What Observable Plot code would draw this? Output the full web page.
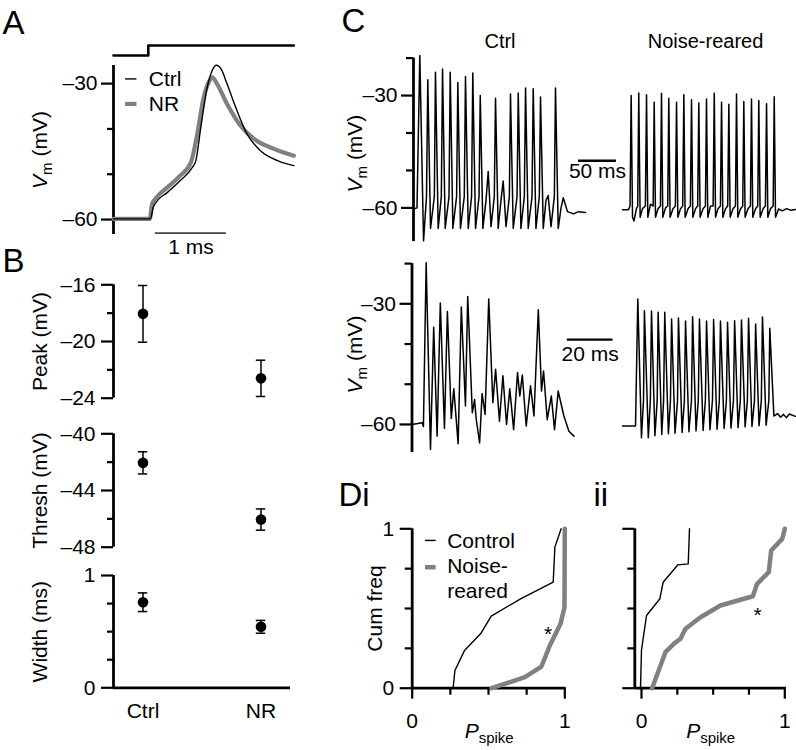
<!DOCTYPE html>
<html><head><meta charset="utf-8">
<script src="https://cdn.jsdelivr.net/npm/d3@7"></script>
<script src="https://cdn.jsdelivr.net/npm/@observablehq/plot@0.6"></script>
<style>
html,body{margin:0;padding:0;background:#fff;overflow:hidden}
#fig{position:relative;width:796px;height:750px;background:#fff}
#fig svg{position:absolute;left:0;top:0}
</style></head><body><div id="fig"></div>
<script>
// ---------- Panel A: stimulus and averaged action potentials (t in ms, V in mV)
const stimTime = [0, 0.49, 2.54];
const stimLevel = [0, 1, 1];
const apCtrl = [[0,-59.85],[0.52,-59.85],[0.56,-57.3],[0.59,-56.4],[0.76,-54.0],[0.94,-51.4],[1.11,-48.5],[1.16,-47.0],[1.23,-39.6],[1.32,-30.8],[1.39,-27.1],[1.45,-25.95],[1.52,-26.9],[1.60,-30.1],[1.74,-36.0],[1.88,-41.1],[2.07,-44.8],[2.31,-47.0],[2.54,-48.1]];
const apNR = [[0,-59.85],[0.51,-59.85],[0.545,-56.5],[0.59,-55.4],[0.76,-52.9],[0.94,-50.3],[1.09,-47.4],[1.18,-41.1],[1.27,-33.0],[1.34,-29.7],[1.39,-28.6],[1.46,-30.1],[1.60,-34.5],[1.79,-39.3],[1.98,-42.2],[2.26,-44.4],[2.54,-45.9]];

// ---------- Panel B: mean ± SEM
const groups = ["Ctrl", "NR"];
const peakMean = [-18.05, -22.6];
const peakErr = [2.0, 1.28];
const threshMean = [-42.05, -46.05];
const threshErr = [0.78, 0.75];
const widthMean = [0.762, 0.543];
const widthErr = [0.083, 0.057];

// ---------- Panel C: spike trains (t in ms, V in mV)
const trainCtrlTop = [[0,-60.3],[4.6,-60.0],[8.3,-19.3],[13.2,-68.8],[17.1,-57],[18.8,-25.8],[22.4,-65.5],[27.4,-57],[28.9,-23.8],[32.5,-65.5],[36.6,-57],[38.2,-22.9],[41.7,-65.5],[46.7,-57],[48.3,-23.8],[51.8,-65.5],[56.7,-57],[58.3,-26.5],[61.8,-65.5],[66.8,-57],[68.4,-24.9],[72.0,-65.5],[76.4,-57],[78.0,-24.0],[81.6,-65.5],[86.2,-57],[87.8,-30.0],[91.3,-65.5],[95.4,-58],[98.3,-50.3],[102.0,-65],[106.3,-57],[107.9,-30.7],[111.4,-65.5],[115.1,-58],[118.0,-52.8],[121.7,-65],[126.1,-57],[127.6,-29.6],[131.2,-65.5],[136.2,-57],[137.8,-29.3],[141.3,-65.5],[145.8,-57],[147.4,-28.0],[150.9,-65.5],[155.9,-57],[157.5,-28.2],[161.1,-65.5],[165.5,-57],[167.1,-30.4],[170.7,-65.5],[174.3,-58],[177.2,-56.7],[180.9,-65],[185.3,-57],[186.8,-28.0],[190.4,-65.5],[194.1,-60],[197.0,-57.3],[202.6,-61],[210.5,-61.6],[217.1,-61.0],[226.3,-61.2]];
const trainNRTop = [[0,-60.5],[7.9,-60.5],[9.9,-59.5],[11.4,-30.0],[13.2,-62.5],[15.1,-63.5],[18.4,-60.2],[20.0,-59.5],[21.4,-29.3],[23.2,-62.5],[26.3,-60.2],[30.1,-59.5],[31.6,-29.8],[33.3,-62.5],[36.8,-59.0],[40.3,-59.5],[41.7,-31.8],[43.4,-62.5],[46.7,-60.2],[49.9,-59.5],[51.3,-29.4],[53.0,-62.5],[56.6,-60.0],[59.5,-59.5],[60.9,-30.7],[62.6,-62.5],[66.4,-60.2],[69.6,-59.5],[71.1,-31.8],[72.8,-62.5],[76.3,-60.2],[79.2,-59.5],[80.7,-29.8],[82.4,-62.5],[86.2,-60.2],[89.3,-59.5],[90.8,-31.1],[92.5,-62.5],[96.1,-60.2],[98.9,-59.5],[100.4,-32.0],[102.1,-62.5],[105.9,-60.2],[109.1,-59.5],[110.5,-30.9],[112.2,-62.5],[115.8,-59.5],[119.2,-59.5],[120.7,-29.4],[122.4,-62.5],[125.7,-60.2],[128.8,-59.5],[130.3,-31.8],[132.0,-62.5],[135.5,-60.2],[138.4,-59.5],[139.9,-32.3],[141.6,-62.5],[145.4,-60.2],[148.6,-59.5],[150.0,-29.6],[151.7,-62.5],[155.3,-60.2],[158.2,-59.5],[159.6,-31.6],[161.3,-62.5],[165.1,-60.2],[168.3,-59.5],[169.7,-30.9],[171.4,-62.5],[175.0,-60.2],[177.9,-59.5],[179.3,-31.3],[181.1,-62.5],[184.9,-60.2],[188.0,-59.5],[189.5,-32.2],[191.2,-62.5],[194.7,-60.2],[198.2,-59.5],[199.6,-30.3],[201.3,-62.5],[205.3,-60.3],[210.5,-60.8],[215.8,-60.2],[221.1,-60.6],[227.6,-60.4]];
const trainCtrlBottom = [[0,-60.0],[4.5,-59.6],[5.0,-60.5],[6.2,-19.8],[8.1,-66.2],[9.5,-35.8],[11.0,-62.9],[12.4,-29.8],[14.2,-61.0],[15.5,-31.9],[17.2,-58.5],[18.3,-51.1],[20.2,-64.8],[21.6,-30.8],[23.4,-55.4],[24.4,-28.2],[26.4,-57.1],[27.4,-53.8],[28.1,-58.6],[29.6,-64.6],[30.7,-52.3],[32.0,-57.5],[33.6,-28.8],[35.4,-54.6],[36.6,-46.3],[38.3,-59.2],[39.8,-47.9],[41.4,-60.0],[42.8,-51.1],[44.5,-61.3],[46.2,-47.1],[47.2,-52.9],[48.3,-47.7],[50.0,-60.4],[51.9,-50.4],[53.4,-57.9],[55.3,-31.5],[56.7,-51.7],[57.6,-46.7],[59.2,-58.8],[61.0,-52.9],[62.4,-61.3],[64.0,-51.7],[66.5,-57.9],[68.7,-61.7],[70.9,-62.9]];
const trainNRBottom = [[0,-60.4],[5.7,-60.4],[6.7,-28.8],[8.3,-63.3],[9.2,-54],[9.6,-31.7],[11.3,-63.3],[12.2,-54],[12.7,-31.8],[14.2,-62.8],[15.2,-54],[15.6,-32.1],[17.2,-62.5],[18.0,-54],[18.5,-32.1],[20.1,-62.3],[21.0,-54],[21.5,-33.8],[23.0,-62.2],[24.1,-54],[24.5,-33.5],[26.1,-62.0],[27.1,-54],[27.6,-34.3],[29.1,-61.8],[30.2,-54],[30.7,-33.2],[32.2,-61.6],[33.2,-54],[33.7,-33.8],[35.3,-61.5],[36.3,-54],[36.8,-34.3],[38.3,-61.3],[39.4,-54],[39.9,-33.9],[41.4,-61.2],[42.4,-54],[42.9,-34.3],[44.5,-61.0],[45.5,-54],[46.0,-34.6],[47.5,-60.9],[48.6,-54],[49.1,-34.2],[50.6,-60.8],[51.6,-54],[52.1,-34.0],[53.7,-60.6],[54.7,-54],[55.2,-33.6],[56.7,-60.5],[57.8,-54],[58.3,-35.0],[59.8,-60.3],[60.8,-54],[61.3,-33.3],[62.9,-60.2],[64.1,-54],[64.5,-36.1],[66.3,-57.9],[67.9,-57.3],[69.2,-58.2],[70.5,-57.5],[71.8,-58.3],[73.1,-57.4],[75.7,-58.0]];

// ---------- Panel D: cumulative frequency of P_spike
const diControl = [[0.268,0],[0.28,0.111],[0.343,0.237],[0.448,0.341],[0.518,0.452],[0.71,0.561],[0.924,0.665],[0.935,0.885],[0.976,1]];
const diNoise = [[0.52,0],[0.738,0.069],[0.847,0.136],[0.902,0.268],[0.972,0.404],[0.998,0.508],[1.0,1]];
const diiControl = [[-0.007,0],[0.0,0.24],[0.035,0.456],[0.128,0.561],[0.151,0.665],[0.254,0.774],[0.326,0.78],[0.335,1]];
const diiNoise = [[0.074,0],[0.167,0.226],[0.225,0.278],[0.272,0.31],[0.307,0.373],[0.412,0.445],[0.551,0.519],[0.777,0.577],[0.807,0.655],[0.888,0.728],[0.905,0.864],[0.982,0.937],[1.0,1]];

// ---------- helpers
const W = 796, H = 750;
const FONT = '"Liberation Sans", Arial, Helvetica, sans-serif';
const GRAY = "#808080";
const AX = 2.8, TK = 2.2, TR = 1.5;
const fmt = d => d < 0 ? "\u2013" + Math.abs(d) : String(d);
const blank = () => "";
const X = d => d[0], Y = d => d[1];

function panel([l, t, r, b], opts) {
  return Plot.plot({
    width: W, height: H,
    marginLeft: l, marginTop: t, marginRight: W - r, marginBottom: H - b,
    style: {background: "transparent", fontFamily: FONT, fontSize: "21px", overflow: "visible", color: "black"},
    ...opts
  });
}
const yLabel = (s, dx, dy = 0) => Plot.text([s], {frameAnchor: "left", dx, dy, rotate: -90, textAnchor: "middle", lineAnchor: "middle"});
const minorY = (ticks, size) => Plot.axisY(ticks, {tickSize: size, tickFormat: blank, strokeWidth: TK, label: null});
const minorX = (ticks, size) => Plot.axisX(ticks, {tickSize: size, tickFormat: blank, strokeWidth: TK, label: null});

const plots = [];

// Panel A stimulus
plots.push(panel([113, 45, 293, 55], {
  x: {domain: [0, 2.535], axis: null},
  y: {domain: [0, 1], axis: null},
  marks: [Plot.line(stimTime.map((t, i) => [t, stimLevel[i]]), {x: X, y: Y, curve: "step-after", strokeWidth: 2.6})]
}));

// Panel A traces
plots.push(panel([113, 65, 293, 234], {
  x: {domain: [0, 2.535], axis: null},
  y: {domain: [-63.3, -26]},
  marks: [
    Plot.ruleX([0], {y1: -63.3, y2: -26, strokeWidth: AX}),
    Plot.axisY([-30, -60], {tickSize: 12, tickPadding: 4, tickFormat: fmt, strokeWidth: TK, label: null}),
    minorY([-40, -50], 6),
    Plot.line(apNR, {x: X, y: Y, stroke: GRAY, strokeWidth: 4.2, curve: "monotone-x"}),
    Plot.line(apCtrl, {x: X, y: Y, stroke: "black", strokeWidth: 1.4, curve: "monotone-x"}),
    Plot.ruleY([-63.0], {x1: 0.59, x2: 1.59, stroke: "#444", strokeWidth: 1.6}),
    Plot.text(["1 ms"], {x: 1.09, y: -63.0, dy: 14.3}),
    Plot.ruleY([-28.96], {x1: 0.17, x2: 0.33, stroke: "black", strokeWidth: 1.4}),
    Plot.ruleY([-34.48], {x1: 0.17, x2: 0.33, stroke: GRAY, strokeWidth: 4.2}),
    Plot.text(["Ctrl"], {x: 0.497, y: -29.07, textAnchor: "start"}),
    Plot.text(["NR"], {x: 0.497, y: -34.48, textAnchor: "start"}),
    yLabel("Vm (mV)", -73)
  ]
}));

// Panel B
function bPanel(frame, mean, err, dom, major, minor, label, withX) {
  const rows = groups.map((g, i) => ({i, g, mean: mean[i], lo: mean[i] - err[i], hi: mean[i] + err[i]}));
  const marks = [
    Plot.ruleX([-0.25], {y1: dom[0], y2: dom[1], strokeWidth: AX}),
    Plot.axisY(major, {tickSize: 12, tickPadding: 6, tickFormat: fmt, strokeWidth: TK, label: null}),
    minorY(minor, 6),
    Plot.ruleX(rows, {x: "i", y1: "lo", y2: "hi", strokeWidth: 1.5}),
    Plot.ruleY(rows, {y: "lo", x1: d => d.i - 0.04, x2: d => d.i + 0.04, strokeWidth: 1.5}),
    Plot.ruleY(rows, {y: "hi", x1: d => d.i - 0.04, x2: d => d.i + 0.04, strokeWidth: 1.5}),
    Plot.dot(rows, {x: "i", y: "mean", r: 5.3, fill: "black"}),
    yLabel(label, -73)
  ];
  if (withX) {
    marks.unshift(Plot.ruleY([dom[0]], {strokeWidth: AX}));
    marks.push(Plot.axisX([0, 1], {tickSize: 0, tickPadding: 15, tickFormat: i => groups[i], label: null}));
  }
  return panel(frame, {
    x: withX ? {domain: [-0.25, 1.25]} : {domain: [-0.25, 1.25], axis: null},
    y: {domain: dom},
    marks
  });
}
plots.push(bPanel([113, 284.3, 290, 397.7], peakMean, peakErr, [-24, -16], [-16, -20, -24], [-18, -22], "Peak (mV)", false));
plots.push(bPanel([113, 433.3, 290, 546.7], threshMean, threshErr, [-48, -40], [-40, -44, -48], [-42, -46], "Thresh (mV)", false));
plots.push(bPanel([113, 575, 290, 687.3], widthMean, widthErr, [0, 1], [0, 1], [0.25, 0.5, 0.75], "Width (ms)", true));

// Panel C
function cAxisMarks(dom) {
  return [
    Plot.ruleX([0], {y1: dom[0], y2: dom[1], strokeWidth: AX}),
    Plot.axisY([-30, -60], {tickSize: 12, tickPadding: 4, tickFormat: fmt, strokeWidth: TK, label: null}),
    minorY([-20, -40, -50], 7)
  ];
}
plots.push(panel([413, 57.6, 586, 241.1], {
  x: {domain: [0, 227.6], axis: null},
  y: {domain: [-69, -20]},
  marks: [
    ...cAxisMarks([-69, -20]),
    Plot.line(trainCtrlTop, {x: X, y: Y, strokeWidth: TR}),
    Plot.ruleY([-47.4], {x1: 217.1, x2: 267.1, strokeWidth: 2.5}),
    Plot.text(["50 ms"], {x: 242.1, y: -47.4, dy: 11}),
    Plot.text(["Ctrl"], {frameAnchor: "top", dy: -16.6, lineAnchor: "middle", fontSize: 20}),
    yLabel("Vm (mV)", -58, 3.7)
  ]
}));
plots.push(panel([622, 57.6, 796, 241.1], {
  x: {domain: [0, 228.9], axis: null},
  y: {domain: [-69, -20], axis: null},
  marks: [
    Plot.line(trainNRTop, {x: X, y: Y, strokeWidth: TR}),
    Plot.text(["Noise-reared"], {frameAnchor: "top", dx: -4, dy: -16.6, lineAnchor: "middle", fontSize: 20})
  ]
}));
plots.push(panel([411.5, 263.1, 586, 452.1], {
  x: {domain: [0, 76.4], axis: null},
  y: {domain: [-67, -20]},
  marks: [
    ...cAxisMarks([-67, -20]),
    Plot.line(trainCtrlBottom, {x: X, y: Y, strokeWidth: TR}),
    Plot.ruleY([-38.9], {x1: 68.0, x2: 88.0, strokeWidth: 2.4}),
    Plot.text(["20 ms"], {x: 78.0, y: -38.9, dy: 14.3}),
    yLabel("Vm (mV)", -56.5, -3.6)
  ]
}));
plots.push(panel([622, 263.1, 796, 452.1], {
  x: {domain: [0, 76.2], axis: null},
  y: {domain: [-67, -20], axis: null},
  marks: [Plot.line(trainNRBottom, {x: X, y: Y, strokeWidth: TR})]
}));

// Panel D
function dPanel(frame, xdom, ctrl, noise, star, withY, legend) {
  const marks = [
    Plot.ruleX([xdom[0]], {y1: 0, y2: 1, strokeWidth: AX}),
    Plot.ruleY([0], {strokeWidth: AX}),
    withY ? Plot.axisY([0, 1], {tickSize: 12, tickPadding: 6, tickFormat: fmt, strokeWidth: TK, label: null})
          : minorY([0, 1], 12),
    minorY([0.25, 0.5, 0.75], 7),
    Plot.axisX([0, 1], {tickSize: 11, tickPadding: 14, tickFormat: fmt, strokeWidth: TK, label: null}),
    minorX([0.25, 0.5, 0.75], 7),
    Plot.line(noise, {x: X, y: Y, stroke: GRAY, strokeWidth: 4.5}),
    Plot.line(ctrl, {x: X, y: Y, stroke: "black", strokeWidth: 1.4}),
    Plot.text(["*"], {x: star[0], y: star[1], dy: 5}),
    Plot.text(["Pspike"], {frameAnchor: "bottom", dy: 50, lineAnchor: "bottom", textAnchor: "middle"})
  ];
  if (withY) marks.push(yLabel("Cum freq", -36.7));
  if (legend) marks.push(
    Plot.ruleY([0.927], {x1: 0.087, x2: 0.157, stroke: "black", strokeWidth: 1.4}),
    Plot.ruleY([0.759], {x1: 0.087, x2: 0.157, stroke: GRAY, strokeWidth: 4.5}),
    Plot.text(["Control"], {x: 0.229, y: 0.924, textAnchor: "start"}),
    Plot.text(["Noise-"], {x: 0.229, y: 0.762, textAnchor: "start"}),
    Plot.text(["reared"], {x: 0.229, y: 0.61, textAnchor: "start"})
  );
  return panel(frame, {x: {domain: xdom}, y: {domain: [0, 1]}, marks});
}
plots.push(dPanel([411.7, 528.3, 565.7, 687.7], [0, 1.0092], diControl, diNoise, [0.89, 0.37], true, true));
plots.push(dPanel([634.3, 528.3, 786, 687.7], [-0.0468, 1.0119], diiControl, diiNoise, [0.81, 0.486], false, false));

// Panel letters
const letter = (s, dx, dy) => Plot.text([s], {frameAnchor: "top-left", dx, dy, textAnchor: "start", lineAnchor: "bottom", fontSize: 33});
plots.push(panel([0, 0, 796, 750], {
  marks: [letter("A", 2, 33.3), letter("B", 2, 271), letter("C", 341, 31.5), letter("Di", 338, 505), letter("ii", 593, 505)]
}));

// rich text: italics and subscripts
const RICH = {
  "Vm (mV)": [["V", {"font-style": "italic"}], ["m", {"font-size": "15px", "dy": "5"}], [" (mV)", {"dy": "-5"}]],
  "Pspike": [["P", {"font-style": "italic"}], ["spike", {"font-size": "15px", "dy": "5"}]]
};
const fig = document.getElementById("fig");
for (const p of plots) {
  p.querySelectorAll("text").forEach(t => {
    const spec = RICH[t.textContent];
    if (!spec) return;
    t.textContent = "";
    for (const [s, attrs] of spec) {
      const ts = document.createElementNS("http://www.w3.org/2000/svg", "tspan");
      for (const k in attrs) ts.setAttribute(k, attrs[k]);
      ts.textContent = s;
      t.appendChild(ts);
    }
  });
  fig.appendChild(p);
}
</script></body></html>
